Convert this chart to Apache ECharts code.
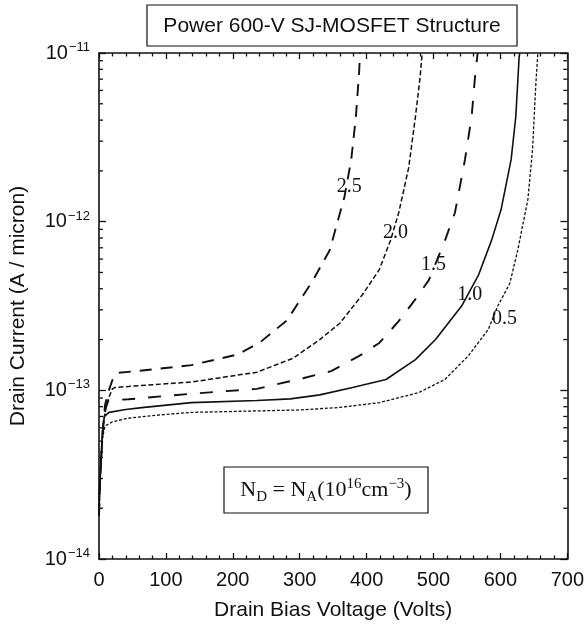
<!DOCTYPE html>
<html><head><meta charset="utf-8">
<script src="https://cdn.jsdelivr.net/npm/echarts@6/dist/echarts.min.js"></script>
<style>html,body{margin:0;padding:0;background:#fff}#c{width:587px;height:626px}</style>
</head><body><div id="c"></div>
<script>
// ---- data (Drain Bias Voltage [V], Drain Current [A/micron]) ----
const conc = ['2.5', '2.0', '1.5', '1.0', '0.5'];
const s25 = [[0,1.8e-14],[1,2.6e-14],[3,3.8e-14],[6,6.0e-14],[9,8.2e-14],[14,9.8e-14],[20,1.15e-13],[29,1.27e-13],[80,1.33e-13],[138,1.41e-13],[207,1.63e-13],[241,1.93e-13],[281,2.6e-13],[320,4.5e-13],[345,6.8e-13],[367,1.41e-12],[377,2.33e-12],[384,4.2e-12],[389,7.9e-12],[390,1e-11]];
const s20 = [[0,1.8e-14],[1,2.6e-14],[3,3.8e-14],[6,6.0e-14],[10,8.0e-14],[14,8.9e-14],[20,1.02e-13],[24,1.04e-13],[80,1.08e-13],[138,1.12e-13],[236,1.28e-13],[290,1.55e-13],[330,2.0e-13],[360,2.5e-13],[394,3.7e-13],[419,5.2e-13],[436,7.8e-13],[448,1.13e-12],[463,2.1e-12],[473,4.2e-12],[480,7.2e-12],[483,1e-11]];
const s15 = [[0,1.8e-14],[1,2.6e-14],[3,3.8e-14],[6,6.0e-14],[10,7.8e-14],[14,8.7e-14],[44,8.85e-14],[138,9.55e-14],[236,1.02e-13],[305,1.18e-13],[347,1.3e-13],[389,1.6e-13],[419,1.91e-13],[448,2.57e-13],[473,3.47e-13],[493,4.5e-13],[517,7.7e-13],[532,1.13e-12],[547,2.33e-12],[557,4.2e-12],[562,7.2e-12],[566,1e-11]];
const s10 = [[0,1.8e-14],[1,2.6e-14],[3,3.8e-14],[5,5.6e-14],[8,7.0e-14],[15,7.4e-14],[40,7.7e-14],[64,7.9e-14],[138,8.45e-14],[236,8.7e-14],[286,8.9e-14],[330,9.4e-14],[379,1.04e-13],[429,1.16e-13],[473,1.52e-13],[503,2.0e-13],[542,3.16e-13],[567,4.8e-13],[587,7.8e-13],[601,1.18e-12],[616,2.33e-12],[623,4.2e-12],[628,9.5e-12],[629,1e-11]];
const s05 = [[0,1.8e-14],[1,2.6e-14],[3,3.8e-14],[5,5.2e-14],[9,6.15e-14],[20,6.5e-14],[40,6.8e-14],[64,6.98e-14],[100,7.2e-14],[138,7.4e-14],[236,7.55e-14],[300,7.65e-14],[357,7.9e-14],[419,8.45e-14],[478,9.7e-14],[517,1.16e-13],[552,1.6e-13],[582,2.3e-13],[596,3.16e-13],[614,4.3e-13],[626,6.8e-13],[641,1.35e-12],[648,2.67e-12],[653,6.6e-12],[656,1e-11]];
// curve label anchor points (data coords)
const labelPts = [[374,1.62e-12],[443,8.65e-13],[500,5.57e-13],[554,3.7e-13],[606,2.65e-13]];
// axis ticks
const xTicks = [0,100,200,300,400,500,600,700];
const yDecades = [-14,-13,-12,-11];
const yMinor = [];
for (let d = -14; d < -11; d++) for (let k = 2; k <= 9; k++) yMinor.push(k * Math.pow(10, d));

const SANS = 'Liberation Sans, Arial, sans-serif';
const SERIF = 'Liberation Serif, Times New Roman, serif';
const chart = echarts.init(document.getElementById('c'), null, {renderer:'canvas'});

const sets = [s25, s20, s15, s10, s05];
const styles = [
  {width:1.9, type:[12,9]},
  {width:1.5, type:[5,2.5]},
  {width:1.9, type:[13,13]},
  {width:1.6, type:'solid'},
  {width:1.3, type:[3,1.8]}
];

function supLabel(v){
  const e = Math.round(Math.log10(v));
  return '{b|10}{s|\u2212' + Math.abs(e) + '}';
}

const series = sets.map((d,i)=>({
  type:'line', data:d, showSymbol:false, symbol:'none', smooth:false,
  lineStyle:{color:'#111', width:styles[i].width, type:styles[i].type},
  silent:true, animation:false, z:3,
  markPoint:{
    symbol:'circle', symbolSize:0, silent:true,
    label:{show:true, formatter:conc[i], color:'#111', fontFamily:SERIF, fontSize:20, position:'inside'},
    data:[{coord:labelPts[i]}]
  }
}));

// minor log ticks on left & right
series.push({
  type:'custom', silent:true, animation:false, z:4,
  data: yMinor.map(v=>[0,v]),
  renderItem:function(params, api){
    const v = api.value(1);
    const pl = api.coord([0, v]);
    const pr = api.coord([700, v]);
    return {type:'group', children:[
      {type:'line', shape:{x1:pl[0], y1:pl[1], x2:pl[0]+4, y2:pl[1]}, style:{stroke:'#111', lineWidth:1.3}},
      {type:'line', shape:{x1:pr[0], y1:pr[1], x2:pr[0]-4, y2:pr[1]}, style:{stroke:'#111', lineWidth:1.3}}
    ]};
  },
  clip:false
});

const axisLineStyle = {color:'#111', width:1.6};
chart.setOption({
  animation:false,
  backgroundColor:'#fff',
  grid:{left:97, right:17, top:53, bottom:66, containLabel:false},
  xAxis:[{
    type:'value', min:0, max:700, interval:100, position:'bottom',
    axisLine:{show:true, onZero:false, lineStyle:axisLineStyle},
    axisTick:{show:true, inside:true, length:6, lineStyle:{color:'#111', width:1.3}},
    minorTick:{show:true, splitNumber:5, length:3.5, lineStyle:{color:'#111', width:1.3}},
    splitLine:{show:false},
    axisLabel:{color:'#111', fontFamily:SANS, fontSize:20, margin:11},
    name:'Drain Bias Voltage (Volts)', nameLocation:'middle', nameGap:41,
    nameTextStyle:{color:'#111', fontFamily:SANS, fontSize:21}
  },{
    type:'value', min:0, max:700, interval:100, position:'top',
    axisLine:{show:true, onZero:false, lineStyle:axisLineStyle},
    axisTick:{show:true, inside:true, length:6, lineStyle:{color:'#111', width:1.3}},
    minorTick:{show:true, splitNumber:5, length:3.5, lineStyle:{color:'#111', width:1.3}},
    splitLine:{show:false}, axisLabel:{show:false}
  }],
  yAxis:[{
    type:'log', logBase:10, min:1e-14, max:1e-11, position:'left',
    axisLine:{show:true, onZero:false, lineStyle:axisLineStyle},
    axisTick:{show:true, inside:true, length:7, lineStyle:{color:'#111', width:1.3}},
    splitLine:{show:false},
    axisLabel:{color:'#111', fontFamily:SANS, margin:9, formatter:supLabel,
      rich:{b:{fontSize:20, fontFamily:SANS, color:'#111', lineHeight:24},
            s:{fontSize:13, fontFamily:SANS, color:'#111', lineHeight:13, verticalAlign:'top', padding:[0,0,6,1]}}},
    name:'Drain Current (A / micron)', nameLocation:'middle', nameGap:70,
    nameTextStyle:{color:'#111', fontFamily:SANS, fontSize:21}
  },{
    type:'log', logBase:10, min:1e-14, max:1e-11, position:'right',
    axisLine:{show:true, onZero:false, lineStyle:axisLineStyle},
    axisTick:{show:true, inside:true, length:7, lineStyle:{color:'#111', width:1.3}},
    splitLine:{show:false}, axisLabel:{show:false}
  }],
  series:series,
  graphic:[
    {type:'rect', x:147, y:5, shape:{x:0, y:0, width:370, height:41}, style:{fill:'#fff', stroke:'#111', lineWidth:1.2}, z:10},
    {type:'text', x:332, y:26, z:11, style:{text:'Power 600-V SJ-MOSFET Structure', fontFamily:SANS, fontSize:21, fill:'#111', align:'center', verticalAlign:'middle', textAlign:'center', textVerticalAlign:'middle'}},
    {type:'rect', x:224, y:467, shape:{x:0, y:0, width:204, height:46}, style:{fill:'#fff', stroke:'#111', lineWidth:1.2}, z:10},
    {type:'text', x:326, y:490, z:11, style:{
      text:'{n|N}{sub|D}{n| = N}{sub|A}{n|(10}{sup|16}{n|cm}{sup|\u22123}{n|)}',
      align:'center', verticalAlign:'middle', textAlign:'center', textVerticalAlign:'middle',
      rich:{
        n:{fontFamily:SERIF, fontSize:22, lineHeight:26, fill:'#111'},
        sub:{fontFamily:SERIF, fontSize:15, lineHeight:15, padding:[13,0,0,0], verticalAlign:'top', fill:'#111'},
        sup:{fontFamily:SERIF, fontSize:15, lineHeight:15, padding:[0,0,13,0], verticalAlign:'top', fill:'#111'}
      }}}
  ]
});
</script></body></html>
